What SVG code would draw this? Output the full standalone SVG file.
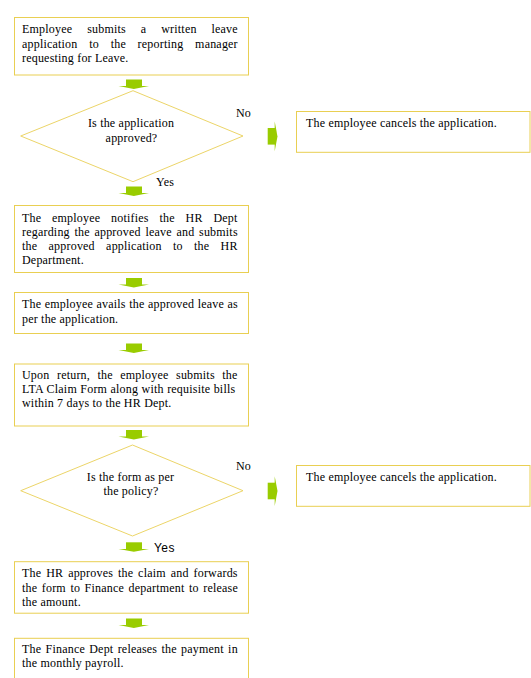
<svg xmlns="http://www.w3.org/2000/svg" xmlns:xlink="http://www.w3.org/1999/xlink" width="531" height="678" viewBox="0 0 531 678">
<style>
.box{fill:#FFFFFF;stroke:#E9CF52;stroke-width:1}
.dia{fill:#FFFFFF;stroke:#ECD568;stroke-width:1}
.t{font-family:"Liberation Serif","Times New Roman",serif;font-size:12px;letter-spacing:0.2px;fill:#000}
.c{text-anchor:middle}
.s{font-family:"Liberation Sans",Arial,sans-serif;font-size:12px;letter-spacing:0.4px;fill:#000}
.arr{fill:#99CC00}
</style>
<defs>
<g id="down" class="arr">
<rect x="-7.5" y="0" width="16" height="7"/>
<polygon points="-15,6.6 15.5,6.6 0.3,9.4"/>
</g>
<g id="right" class="arr">
<rect x="0" y="-8.3" width="7.3" height="16.6"/>
<polygon points="7,-14.8 7,15 9.8,0.1"/>
</g>
</defs>
<rect width="531" height="678" fill="#FFFFFF"/>

<g id="n1">
<rect class="box" x="14.5" y="17.5" width="234" height="57.5"/>
<text class="t" x="22" y="33" style="word-spacing:11.7px">Employee submits a written leave</text>
<text class="t" x="22" y="47.5" style="word-spacing:8.5px">application to the reporting manager</text>
<text class="t" x="22" y="62">requesting for Leave.</text>
</g>

<g id="d1">
<polygon class="dia" points="133,90.7 243,136 133,181.7 20.7,136"/>
<text class="t c" x="131" y="127">Is the application</text>
<text class="t c" x="131.5" y="141.5">approved?</text>
</g>

<g id="c1">
<rect class="box" x="296.5" y="111.5" width="233.5" height="40.8"/>
<text class="t" x="306" y="126.7">The employee cancels the application.</text>
</g>

<g id="n2">
<rect class="box" x="14.5" y="205.5" width="234" height="67"/>
<text class="t" x="22" y="222" style="word-spacing:7.6px">The employee notifies the HR Dept</text>
<text class="t" x="22" y="236" style="word-spacing:1.5px">regarding the approved leave and submits</text>
<text class="t" x="22" y="250" style="word-spacing:8.1px">the approved application to the HR</text>
<text class="t" x="22" y="264">Department.</text>
</g>

<g id="n3">
<rect class="box" x="14.5" y="292.5" width="234" height="41"/>
<text class="t" x="22" y="308" style="word-spacing:0.3px">The employee avails the approved leave as</text>
<text class="t" x="22" y="323">per the application.</text>
</g>

<g id="n4">
<rect class="box" x="14.5" y="364" width="234" height="62"/>
<text class="t" x="22" y="379" style="word-spacing:4.3px">Upon return, the employee submits the</text>
<text class="t" x="22" y="393" style="word-spacing:0.2px">LTA Claim Form along with requisite bills</text>
<text class="t" x="22" y="407">within 7 days to the HR Dept.</text>
</g>

<g id="d2">
<polygon class="dia" points="132.5,445 243,490.7 132.5,536 20.7,490.7"/>
<text class="t c" x="130.5" y="481">Is the form as per</text>
<text class="t c" x="131" y="495">the policy?</text>
</g>

<g id="c2">
<rect class="box" x="296.5" y="465.5" width="233.5" height="40.8"/>
<text class="t" x="306" y="481">The employee cancels the application.</text>
</g>

<g id="n5">
<rect class="box" x="14.5" y="561.7" width="234" height="51.5"/>
<text class="t" x="22" y="577" style="word-spacing:1.7px">The HR approves the claim and forwards</text>
<text class="t" x="22" y="592" style="word-spacing:1.3px">the form to Finance department to release</text>
<text class="t" x="22" y="606">the amount.</text>
</g>

<g id="n6">
<rect class="box" x="14.5" y="638.3" width="234" height="50"/>
<text class="t" x="22" y="653" style="word-spacing:1.1px">The Finance Dept releases the payment in</text>
<text class="t" x="22" y="667">the monthly payroll.</text>
</g>

<g id="connectors">
<use xlink:href="#down" x="133.5" y="79.5"/>
<use xlink:href="#down" x="133.5" y="186.5"/>
<use xlink:href="#down" x="133.5" y="278"/>
<use xlink:href="#down" x="133.5" y="343.5"/>
<use xlink:href="#down" x="133.5" y="430"/>
<use xlink:href="#down" x="133.5" y="542.3"/>
<use xlink:href="#down" x="133.5" y="618.5"/>
<use xlink:href="#right" x="267.7" y="136.3"/>
<use xlink:href="#right" x="267.7" y="491"/>
<text class="t" x="236" y="117">No</text>
<text class="t" x="236" y="470">No</text>
<text class="t" x="156" y="186">Yes</text>
<text class="s" x="154" y="552">Yes</text>
</g>
</svg>
